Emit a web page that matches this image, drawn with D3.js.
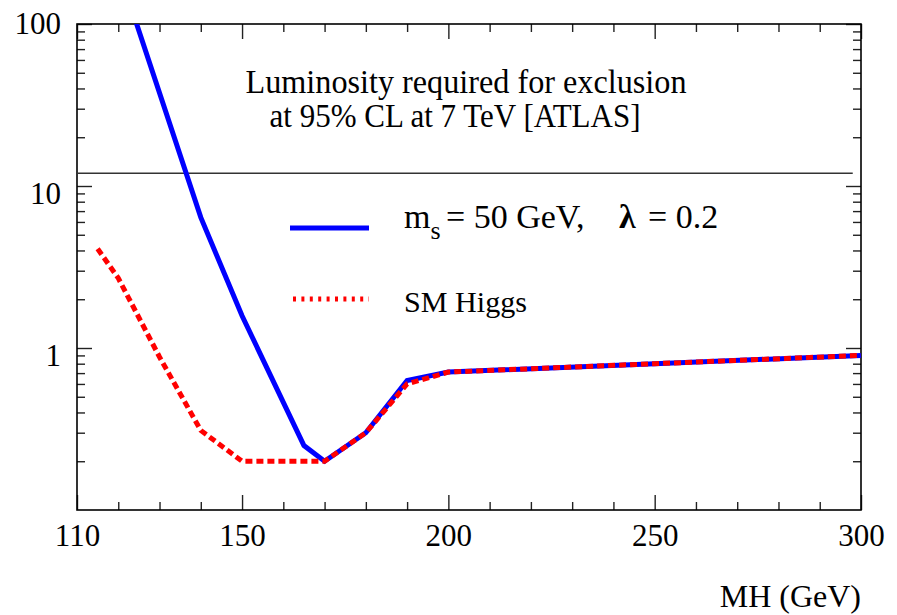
<!DOCTYPE html>
<html>
<head>
<meta charset="utf-8">
<script src="https://cdn.jsdelivr.net/npm/d3@7"></script>
<style>
  body { margin: 0; background: #fff; }
</style>
</head>
<body>
<script>
// Higgs mass (GeV) and luminosity needed for exclusion (fb^-1)
const mhScalar = [120, 140, 150, 165, 170, 180, 190, 200, 250, 300];
const lumiScalar = [220, 6.4, 1.58, 0.25, 0.2, 0.3, 0.63, 0.71, 0.8, 0.9];

const mhSM = [115, 120, 130, 140, 150, 160, 170, 180, 190, 200, 250, 300];
const lumiSM = [4.1, 2.7, 0.88, 0.31, 0.2, 0.2, 0.2, 0.3, 0.6, 0.71, 0.8, 0.9];

// reference luminosity line
const lumiRef = 12;

const xMajor = [110, 150, 200, 250, 300];
const xMinor = [120, 130, 140, 160, 170, 180, 190, 210, 220, 230, 240, 260, 270, 280, 290];
const yMajor = [1, 10, 100];
const yMinor = [0.2, 0.3, 0.4, 0.5, 0.6, 0.7, 0.8, 0.9, 2, 3, 4, 5, 6, 7, 8, 9, 20, 30, 40, 50, 60, 70, 80, 90];

const serif = "Liberation Serif";

let width = 897,
    height = 615;
let padL = 77, padR = 861, padT = 24, padB = 510;

let svg = d3.select("body")
            .append("svg")
            .attr("width", width)
            .attr("height", height);

let x = d3.scaleLinear().domain([110, 300]).range([padL, padR]);
let y = d3.scaleLog().domain([0.1, 100]).range([padB, padT]);

svg.append("clipPath").attr("id", "plot")
   .append("rect")
   .attr("x", padL).attr("y", padT)
   .attr("width", padR - padL).attr("height", padB - padT);

// ticks, all pointing inwards
function tickAxis(axis, values, size, tx, ty) {
    let g = svg.append("g")
        .attr("transform", "translate(" + tx + "," + ty + ")")
        .call(axis.tickValues(values).tickSizeInner(-size).tickSizeOuter(0).tickFormat(""));
    g.select(".domain").remove();
    g.selectAll(".tick line").attr("stroke", "#222").attr("stroke-width", 1.4);
    return g;
}
tickAxis(d3.axisBottom(x), xMinor, 8, 0, padB);
tickAxis(d3.axisBottom(x), xMajor, 15, 0, padB);
tickAxis(d3.axisTop(x), xMinor, 8, 0, padT);
tickAxis(d3.axisTop(x), xMajor, 15, 0, padT);
tickAxis(d3.axisLeft(y), yMinor, 8, padL, 0);
tickAxis(d3.axisLeft(y), yMajor, 15, padL, 0);
tickAxis(d3.axisRight(y), yMinor, 8, padR, 0);
tickAxis(d3.axisRight(y), yMajor, 15, padR, 0);

// tick labels
let xLab = svg.append("g")
    .attr("transform", "translate(0," + padB + ")")
    .call(d3.axisBottom(x).tickValues(xMajor).tickSize(0).tickPadding(14).tickFormat(d3.format("d")))
    .attr("font-family", serif).attr("font-size", 31);
xLab.select(".domain").remove();
xLab.selectAll("text").attr("fill", "#000");

let yLab = svg.append("g")
    .attr("transform", "translate(" + (padL - 16) + ",0)")
    .call(d3.axisLeft(y).tickValues(yMajor).tickSize(0).tickPadding(0).tickFormat(d3.format("d")))
    .attr("font-family", serif).attr("font-size", 31);
yLab.select(".domain").remove();
yLab.selectAll("text")
    .attr("fill", "#000")
    .attr("dy", d => d === 100 ? "9px" : "17px");

// frame
svg.append("rect")
   .attr("x", padL).attr("y", padT)
   .attr("width", padR - padL).attr("height", padB - padT)
   .attr("fill", "none").attr("stroke", "#000").attr("stroke-width", 1.6);

// reference line
svg.append("line")
   .attr("x1", x(110)).attr("x2", x(298))
   .attr("y1", y(lumiRef)).attr("y2", y(lumiRef))
   .attr("stroke", "#333").attr("stroke-width", 1.5);

let line = d3.line()
    .x(d => x(d[0]))
    .y(d => y(d[1]));

svg.append("path")
   .datum(d3.zip(mhScalar, lumiScalar))
   .attr("clip-path", "url(#plot)")
   .attr("d", line)
   .attr("fill", "none")
   .attr("stroke", "#0000ff")
   .attr("stroke-width", 5);

svg.append("path")
   .datum(d3.zip(mhSM, lumiSM))
   .attr("clip-path", "url(#plot)")
   .attr("d", line)
   .attr("fill", "none")
   .attr("stroke", "#ff0000")
   .attr("stroke-width", 5)
   .attr("stroke-dasharray", "7,4");

// title
svg.append("text")
   .attr("x", 466).attr("y", 93)
   .attr("text-anchor", "middle")
   .attr("font-family", serif).attr("font-size", 33)
   .attr("textLength", 441).attr("lengthAdjust", "spacingAndGlyphs")
   .text("Luminosity required for exclusion");
svg.append("text")
   .attr("x", 455).attr("y", 127)
   .attr("text-anchor", "middle")
   .attr("font-family", serif).attr("font-size", 33)
   .attr("textLength", 371).attr("lengthAdjust", "spacingAndGlyphs")
   .text("at 95% CL at 7 TeV [ATLAS]");

// legend
svg.append("line")
   .attr("x1", 290).attr("x2", 369).attr("y1", 228).attr("y2", 228)
   .attr("stroke", "#0000ff").attr("stroke-width", 5);
let leg = svg.append("text").attr("y", 228)
   .attr("font-family", serif).attr("font-size", 34);
leg.append("tspan").attr("x", 404).text("m");
leg.append("tspan").attr("dy", 11).attr("font-size", 26).text("s");
leg.append("tspan").attr("x", 446).attr("dy", -11).text("= 50 GeV,");
leg.append("tspan").attr("x", 619).attr("font-weight", "bold").text("λ");
leg.append("tspan").attr("x", 648).text("= 0.2");

svg.append("line")
   .attr("x1", 293).attr("x2", 369).attr("y1", 299).attr("y2", 299)
   .attr("stroke", "#ff0000").attr("stroke-width", 5)
   .attr("stroke-dasharray", "3,5.4");
svg.append("text")
   .attr("x", 404).attr("y", 312)
   .attr("font-family", serif).attr("font-size", 30)
   .attr("textLength", 123).attr("lengthAdjust", "spacingAndGlyphs")
   .text("SM Higgs");

// axis title
svg.append("text")
   .attr("x", 861).attr("y", 607)
   .attr("text-anchor", "end")
   .attr("font-family", serif).attr("font-size", 32)
   .text("MH (GeV)");
</script>
</body>
</html>
